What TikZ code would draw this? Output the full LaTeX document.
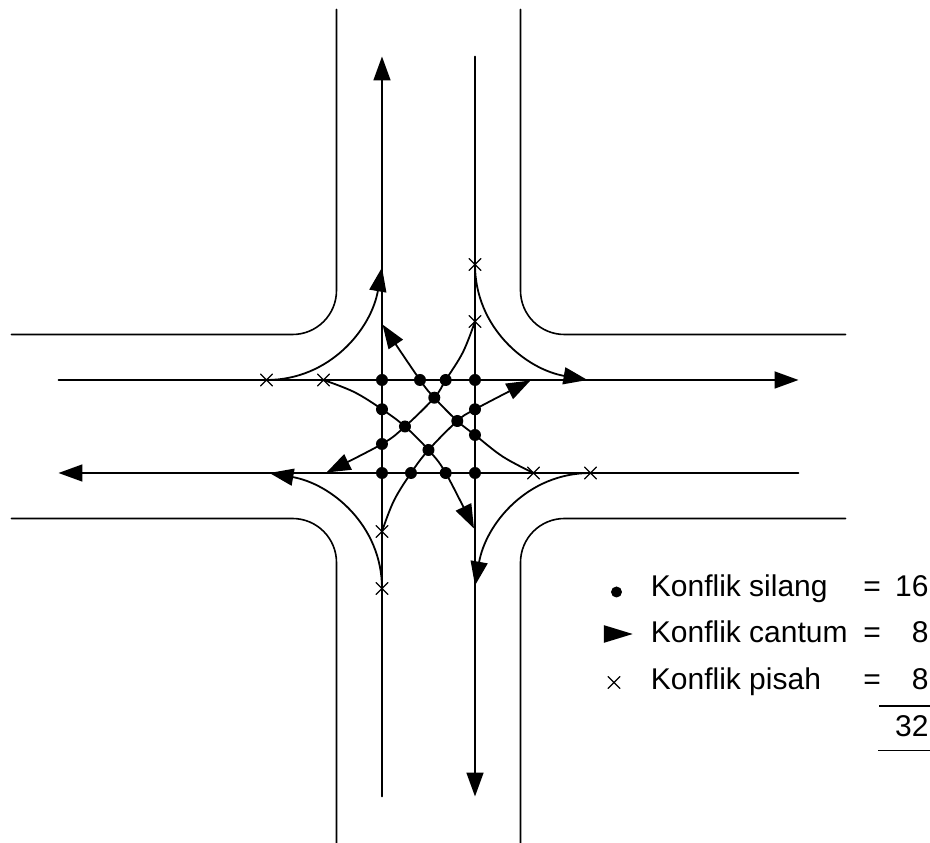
\documentclass[tikz,border=0pt]{standalone}
\usepackage{fontspec}
\setmainfont{Liberation Sans}
\usetikzlibrary{arrows.meta}
\tikzset{
  silang/.style={fill=black},
  pisah/.pic={\draw[line width=1.3pt] (-6,-6)--(6,6) (-6,6)--(6,-6);},
}
\begin{document}
\begin{tikzpicture}[x=1pt,y=1pt,line width=1.8pt,line join=round,line cap=round,>={Triangle[length=24pt,width=17pt]},font=\fontsize{30}{36}\selectfont]
\useasboundingbox (-428.5,-416.5) rectangle (501.5,426.5);
% tepi jalan, lajur lurus dan belok kiri untuk tiap kaki simpang
\foreach \r in {0,-90,-180,-270}{
  \begin{scope}[rotate=\r]
    \draw[line width=1.6pt,rounded corners=44pt] (-417,92)--(-92,92)--(-92,417);
    \draw[->] (-370,46.5)--(370,46.5);
    \draw[->] (-162,46.5) to[out=0,in=-100] (-46.5,159);
  \end{scope}
}
% titik konflik silang
\coordinate (k1) at (-46.5,46.5);
\coordinate (k2) at (-8.5,46.5);
\coordinate (k3) at (17.2,46.5);
\coordinate (k4) at (46.5,46.5);
\coordinate (k5) at (-46.5,17.2);
\coordinate (k6) at (5.8,28.8);
\coordinate (k7) at (46.5,17.2);
\coordinate (k8) at (-23.5,0);
\coordinate (k9) at (28.8,5.5);
\coordinate (k10) at (-46.5,-17.5);
\coordinate (k11) at (46.5,-8.5);
\coordinate (k12) at (0,-23.5);
\coordinate (k13) at (-46.5,-46.5);
\coordinate (k14) at (-17.5,-46.5);
\coordinate (k15) at (17.2,-46.5);
\coordinate (k16) at (46.5,-46.5);
% belok kanan
\draw[->] plot[smooth,tension=0.6] coordinates {(-105,46.5) (-74.4,34.5) (k5) (k8) (k12) (k15) (45.5,-102)};
\draw[->] plot[smooth,tension=0.6] coordinates {(46.5,105) (34.5,74.4) (k3) (k6) (k8) (k10) (-102,-46)};
\draw[->] plot[smooth,tension=0.6] coordinates {(105,-46.5) (74.4,-30.2) (k11) (k9) (k6) (k2) (-46,102)};
\draw[->] plot[smooth,tension=0.6] coordinates {(-46.5,-105) (-34.7,-74.4) (k14) (k12) (k9) (k7) (102,46)};
\foreach \k in {1,...,16}
  \fill[silang] (k\k) circle (6);
% konflik pisah
\foreach \r in {0,-90,-180,-270}{
  \begin{scope}[rotate=\r]
    \pic at (-162,46.5) {pisah};
    \pic at (-105,46.5) {pisah};
  \end{scope}
}
% keterangan
\fill[silang] (188,-165.5) circle (5.5);
\fill (175.5,-198.7)--(204.2,-207.5)--(175.5,-216.3)--cycle;
\pic at (185.5,-256) {pisah};
\node[anchor=base west,inner sep=0] (tsilang) at (221.5,-170.5) {Konflik silang};
\node[anchor=base west,inner sep=0] (tcantum) at (221.5,-216.5) {Konflik cantum};
\node[anchor=base west,inner sep=0] (tpisah) at (221.5,-263.5) {Konflik pisah};
\node[anchor=base west,inner sep=0] (esilang) at (434,-170.5) {=};
\node[anchor=base west,inner sep=0] (ecantum) at (434,-216.5) {=};
\node[anchor=base west,inner sep=0] (episah) at (434,-263.5) {=};
\node[anchor=base east,inner sep=0] (nsilang) at (501,-170.5) {16};
\node[anchor=base east,inner sep=0] (ncantum) at (501,-216.5) {8};
\node[anchor=base east,inner sep=0] (npisah) at (501,-263.5) {8};
\node[anchor=base east,inner sep=0] (njumlah) at (501,-310.5) {32};
\draw[line cap=butt] (450.5,-279.5)--(501.5,-279.5);
\draw[line cap=butt] (449.5,-324)--(501.5,-324);
\end{tikzpicture}
\end{document}
